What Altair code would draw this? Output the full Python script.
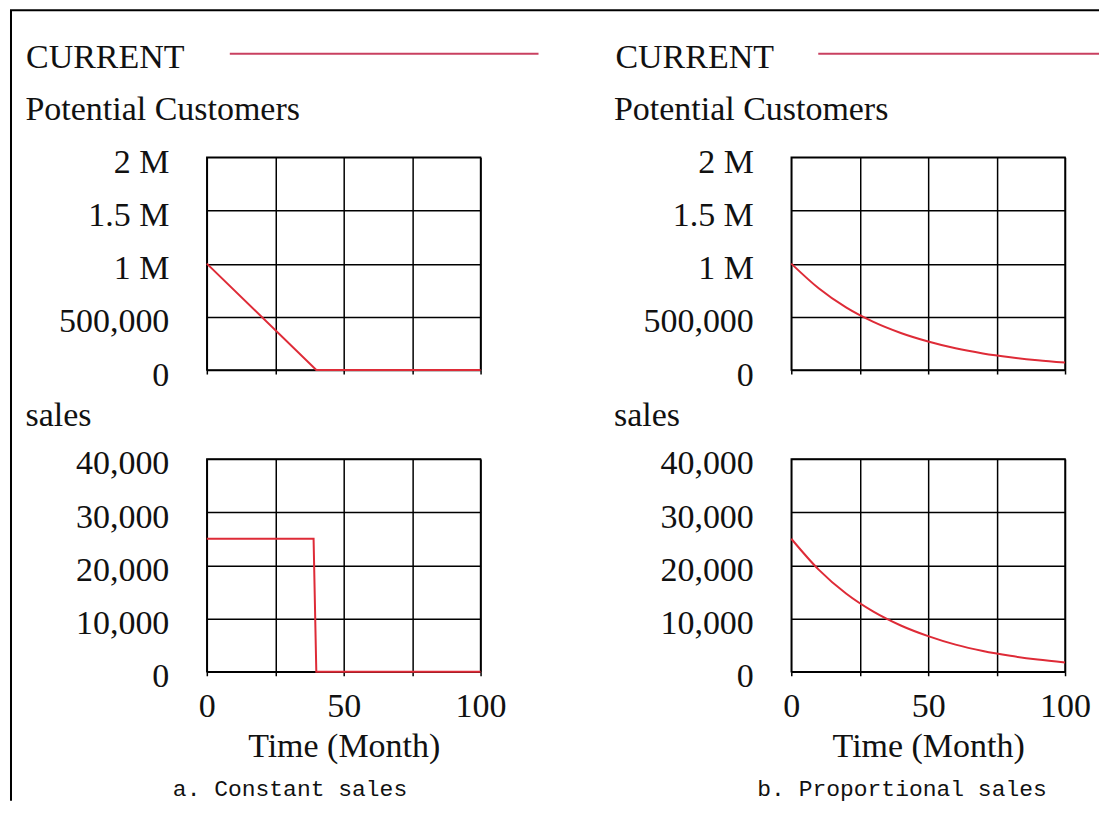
import altair as alt
import pandas as pd

# ---------------- data ----------------
TIME_A_STOCK = [0, 40, 100]
PC_A = [1000000, 0, 0]
TIME_A_FLOW = [0, 39, 40, 100]
SALES_A = [25000, 25000, 0, 0]

TIME_B = [0, 10, 20, 30, 40, 50, 60, 70, 80, 90, 100]
PC_B = [1000000, 768000, 588000, 452000, 348000, 268000, 204000, 156000, 120000, 92000, 70000]
SALES_B = [25000, 19200, 14700, 11300, 8700, 6700, 5100, 3900, 3000, 2300, 1750]

X_TICKS = [0, 25, 50, 75, 100]
X_LABELED = [0, 50, 100]
PC_TICKS = [0, 500000, 1000000, 1500000, 2000000]
PC_LABELS = ["0", "500,000", "1 M", "1.5 M", "2 M"]
SALES_TICKS = [0, 10000, 20000, 30000, 40000]
SALES_LABELS = ["0", "10,000", "20,000", "30,000", "40,000"]

LEGEND_LABEL = "CURRENT"
TITLE_TOP = "Potential Customers"
TITLE_BOTTOM = "sales"
X_TITLE = "Time (Month)"
CAPTIONS = ["a. Constant sales", "b. Proportional sales"]

SERIF = "Liberation Serif"
MONO = "Liberation Mono"
LINE_RED = "#de2b37"
LEGEND_RED = "#c94060"
INK = "#111111"

W, H = 274, 213


def label_expr(ticks, labels):
    expr = "''"
    for t, l in reversed(list(zip(ticks, labels))):
        expr = f"datum.value == {t} ? '{l}' : ({expr})"
    return expr


def text_layer(txt, x, y, size=34, font=SERIF):
    return alt.Chart(pd.DataFrame({"txt": [txt]})).mark_text(
        font=font, fontSize=size, align="left", baseline="alphabetic", color=INK
    ).encode(text="txt:N", x=alt.value(x), y=alt.value(y))


def rule_layer(x, x2, y, y2, color, width=2):
    return alt.Chart(pd.DataFrame({"a": [0]})).mark_rule(
        color=color, strokeWidth=width
    ).encode(x=alt.value(x), x2=alt.value(x2), y=alt.value(y), y2=alt.value(y2))


def panel(times, values, ymax, yticks, ylabels, ytitle, ytitle_x, ytitle_y,
          bottom, interp, extra):
    df = pd.DataFrame({"t": times, "v": values})
    xkw = dict(values=X_TICKS, grid=True, gridColor="#000", gridWidth=1.5, gridOpacity=1,
               tickSize=4, tickColor="#000", tickWidth=1.5, domain=False, labelFlush=False)
    if bottom:
        xkw.update(labels=True, labelFont=SERIF, labelFontSize=34, labelColor=INK,
                   labelPadding=14,
                   labelExpr=f"indexof({X_LABELED}, datum.value) >= 0 ? datum.label : ''",
                   title=X_TITLE, titleFont=SERIF, titleFontSize=34,
                   titleFontWeight="normal", titleColor=INK, titleY=85,
                   titleBaseline="alphabetic")
    else:
        xkw.update(labels=False, title="")
    ykw = dict(values=yticks, grid=True, gridColor="#000", gridWidth=1.5, gridOpacity=1,
               ticks=False, domain=False,
               labelFont=SERIF, labelFontSize=34, labelColor=INK,
               labelPadding=38, labelBaseline="middle", labelOffset=5,
               labelExpr=label_expr(yticks, ylabels),
               title=ytitle, titleFont=SERIF, titleFontSize=34,
               titleFontWeight="normal", titleColor=INK, titleAngle=0,
               titleAlign="left", titleBaseline="alphabetic",
               titleX=ytitle_x, titleY=ytitle_y)
    line = alt.Chart(df).mark_line(color=LINE_RED, strokeWidth=2,
                                   interpolate=interp).encode(
        x=alt.X("t:Q", scale=alt.Scale(domain=[0, 100], nice=False), axis=alt.Axis(**xkw)),
        y=alt.Y("v:Q", scale=alt.Scale(domain=[0, ymax], nice=False), axis=alt.Axis(**ykw)),
    )
    return alt.layer(line, *extra).properties(width=W, height=H)


# top-left panel (with the outer border)
tl = panel(TIME_A_STOCK, PC_A, 2000000, PC_TICKS, PC_LABELS, TITLE_TOP, -182, -38,
           False, "linear",
           [text_layer(LEGEND_LABEL, -181, -89),
            rule_layer(23, 332, -103.5, -103.5, LEGEND_RED),
            rule_layer(-196, -196, -147, 644, "#000", 2),
            rule_layer(-197, 893, -147, -147, "#000", 2)])

tr = panel(TIME_B, PC_B, 2000000, PC_TICKS, PC_LABELS, TITLE_TOP, -178, -38,
           False, "monotone",
           [text_layer(LEGEND_LABEL, -176, -89),
            rule_layer(27, 308, -103.5, -103.5, LEGEND_RED)])

bl = panel(TIME_A_FLOW, SALES_A, 40000, SALES_TICKS, SALES_LABELS, TITLE_BOTTOM, -182, -33,
           True, "linear",
           [text_layer(CAPTIONS[0], -34, 337, size=23, font=MONO)])

br = panel(TIME_B, SALES_B, 40000, SALES_TICKS, SALES_LABELS, TITLE_BOTTOM, -178, -33,
           True, "monotone",
           [text_layer(CAPTIONS[1], -34, 337, size=23, font=MONO)])

chart = alt.concat(tl, tr, bl, br, columns=2).properties(
    spacing={"row": 89, "column": 311},
    bounds="flush",
    padding=0,
    background="white",
).configure_view(
    stroke="#000", strokeWidth=1.5
)

chart.save("out.html", embed_options={"renderer": "svg", "actions": False})
